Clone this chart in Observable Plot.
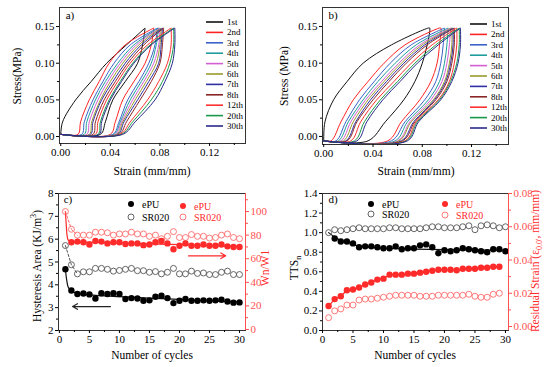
<!DOCTYPE html>
<html><head><meta charset="utf-8">
<script src="https://cdn.jsdelivr.net/npm/d3@7"></script>
<script src="https://cdn.jsdelivr.net/npm/@observablehq/plot@0.6"></script>
<style>
body{margin:0;background:#fff}
#fig{position:relative;width:554px;height:367px;overflow:hidden;background:#fff;font-family:"Liberation Serif","Times New Roman",serif;color:#000}
</style></head>
<body><div id="fig"></div>
<script>
// ---------- data ----------
const cycleNames = ["1st","2nd","3rd","4th","5th","6th","7th","8th","12th","20th","30th"];
const cycleColors = ["#111111","#ff2424","#3b62c8","#1f9c9c","#d45fd4","#9a9a2c","#2f2fa6","#8a2626","#ff3030","#19994a","#2a2a8c"];

// panel a: strain (mm/mm) at given stress levels (MPa), loading then unloading
const stressLevelsA = [0.003, 0.02, 0.05, 0.075, 0.10, 0.125, 0.148];
const loadStrainA = [
  [0.000, 0.0015, 0.012, 0.0245, 0.037, 0.053, 0.068],
  [0.014, 0.016, 0.023, 0.031, 0.039, 0.052, 0.075],
  [0.017, 0.019, 0.026, 0.034, 0.043, 0.056, 0.078],
  [0.019, 0.021, 0.028, 0.036, 0.046, 0.059, 0.079],
  [0.021, 0.023, 0.030, 0.038, 0.048, 0.061, 0.080],
  [0.023, 0.025, 0.032, 0.040, 0.050, 0.063, 0.081],
  [0.024, 0.026, 0.033, 0.042, 0.052, 0.065, 0.082],
  [0.026, 0.028, 0.035, 0.044, 0.054, 0.067, 0.083],
  [0.028, 0.030, 0.037, 0.046, 0.056, 0.070, 0.089],
  [0.030, 0.032, 0.039, 0.048, 0.058, 0.072, 0.091],
  [0.031, 0.033, 0.040, 0.049, 0.059, 0.073, 0.092]
];
const unloadStrainA = [
  [0.032, 0.036, 0.042, 0.052, 0.062, 0.066, 0.068],
  [0.040, 0.044, 0.050, 0.059, 0.068, 0.073, 0.075],
  [0.042, 0.047, 0.054, 0.063, 0.071, 0.076, 0.078],
  [0.043, 0.048, 0.056, 0.065, 0.073, 0.077, 0.079],
  [0.044, 0.049, 0.058, 0.067, 0.075, 0.079, 0.080],
  [0.045, 0.050, 0.060, 0.069, 0.077, 0.080, 0.081],
  [0.046, 0.051, 0.062, 0.071, 0.079, 0.081, 0.082],
  [0.047, 0.053, 0.064, 0.073, 0.080, 0.082, 0.083],
  [0.048, 0.056, 0.070, 0.079, 0.086, 0.089, 0.089],
  [0.049, 0.058, 0.073, 0.082, 0.088, 0.091, 0.091],
  [0.050, 0.060, 0.076, 0.084, 0.090, 0.092, 0.092]
];

// panel b
const stressLevelsB = [-0.006, 0.02, 0.05, 0.075, 0.10, 0.125, 0.148];
const loadStrainB = [
  [0.000, 0.001, 0.008, 0.019, 0.032, 0.055, 0.085],
  [0.006, 0.014, 0.024, 0.036, 0.049, 0.066, 0.094],
  [0.010, 0.018, 0.029, 0.041, 0.054, 0.071, 0.098],
  [0.012, 0.020, 0.032, 0.044, 0.058, 0.075, 0.101],
  [0.014, 0.022, 0.034, 0.047, 0.061, 0.078, 0.103],
  [0.016, 0.024, 0.036, 0.049, 0.063, 0.080, 0.104],
  [0.018, 0.026, 0.038, 0.051, 0.065, 0.082, 0.105],
  [0.019, 0.027, 0.040, 0.053, 0.067, 0.084, 0.106],
  [0.022, 0.030, 0.043, 0.057, 0.071, 0.088, 0.108],
  [0.025, 0.033, 0.046, 0.060, 0.074, 0.091, 0.110],
  [0.027, 0.035, 0.048, 0.062, 0.076, 0.093, 0.111]
];
const unloadStrainB = [
  [0.036, 0.050, 0.065, 0.074, 0.080, 0.084, 0.086],
  [0.052, 0.063, 0.078, 0.087, 0.092, 0.094, 0.095],
  [0.055, 0.066, 0.082, 0.091, 0.095, 0.097, 0.098],
  [0.058, 0.068, 0.085, 0.094, 0.098, 0.100, 0.101],
  [0.060, 0.070, 0.087, 0.096, 0.100, 0.102, 0.103],
  [0.061, 0.071, 0.089, 0.098, 0.102, 0.104, 0.104],
  [0.063, 0.073, 0.090, 0.099, 0.103, 0.105, 0.105],
  [0.064, 0.074, 0.091, 0.100, 0.104, 0.106, 0.106],
  [0.066, 0.075, 0.093, 0.102, 0.106, 0.108, 0.108],
  [0.067, 0.076, 0.094, 0.103, 0.108, 0.110, 0.110],
  [0.068, 0.077, 0.095, 0.104, 0.109, 0.111, 0.111]
];

const strainTicks = [0, 0.04, 0.08, 0.12];
const strainMinor = [0.02, 0.06, 0.10, 0.14];
const stressTicks = [0, 0.05, 0.10, 0.15];
const stressMinor = [0.025, 0.075, 0.125];

// panel c
const cycles = [1,2,3,4,5,6,7,8,9,10,11,12,13,14,15,16,17,18,19,20,21,22,23,24,25,26,27,28,29,30];
const hystEPU = [4.68,3.75,3.60,3.62,3.58,3.40,3.63,3.60,3.63,3.60,3.38,3.42,3.40,3.30,3.32,3.48,3.52,3.42,3.20,3.30,3.38,3.30,3.30,3.32,3.30,3.32,3.35,3.27,3.22,3.23];
const hystSR020 = [5.72,4.88,4.48,4.57,4.57,4.72,4.72,4.68,4.60,4.63,4.68,4.72,4.62,4.62,4.55,4.58,4.48,4.55,4.72,4.48,4.48,4.60,4.50,4.52,4.45,4.45,4.55,4.60,4.45,4.45];
const ratioEPU = [null,74,74.5,74,72,75,74.5,73,74,74,72.5,73,73,71.5,72,74,75,73,68,71,73,71,71,72,71,71,72,70.5,70,70];
const ratioSR020 = [100,85,80,80,80,82.5,82.5,82,80,81,81,82.5,81,81,79,80,77,79,83,78,78,80.5,79,79,77.5,78,80,81,78,77];
const fitHystX = [1,1.25,1.5,2,3,5,10,15,20,25,30];
const fitHystY = [4.68,4.15,3.88,3.72,3.63,3.56,3.48,3.42,3.36,3.30,3.25];
const fitRatioX = [1,1.15,1.3,1.5,2,5,10,15,20,25,30];
const fitRatioY = [100,88,79,75.5,74.5,74,73.3,72.6,71.9,71.2,70.5];
const arrowLeft = [{x1: 8.5, x2: 2.2, y: 3.05}];
const arrowRight = [{x1: 21.5, x2: 27.7, y: 62.5}];

// panel d
const ttsEPU = [null,0.94,0.91,0.91,0.89,0.85,0.86,0.86,0.85,0.84,0.84,0.86,0.83,0.84,0.84,0.87,0.88,0.85,0.79,0.82,0.81,0.82,0.84,0.83,0.82,0.81,0.80,0.83,0.83,0.81];
const ttsSR020 = [1.00,1.03,1.02,1.03,1.04,1.05,1.04,1.04,1.04,1.04,1.05,1.05,1.04,1.04,1.04,1.04,1.05,1.06,1.06,1.05,1.05,1.05,1.06,1.07,1.03,1.07,1.08,1.07,1.05,1.06];
const residEPU = [0.0123,0.0165,0.0182,0.0218,0.0223,0.0235,0.0253,0.0265,0.0282,0.0288,0.0312,0.0312,0.0312,0.0318,0.0318,0.0324,0.0329,0.0335,0.0341,0.0341,0.0341,0.0338,0.0347,0.0347,0.0347,0.0353,0.0353,0.0359,0.0359];
const residSR020 = [0.0053,0.0094,0.0106,0.0129,0.0129,0.0159,0.0165,0.0165,0.0170,0.0176,0.0182,0.0188,0.0188,0.0188,0.0188,0.0182,0.0182,0.0182,0.0188,0.0188,0.0188,0.0188,0.0188,0.0194,0.0182,0.0176,0.0176,0.0194,0.0200];
const fitTtsX = [1,2,3,4,5,7,10,15,20,25,30];
const fitTtsY = [1.0,0.955,0.92,0.895,0.875,0.855,0.842,0.832,0.826,0.822,0.82];

// ---------- helpers ----------
const FONT = '"Liberation Serif","Times New Roman",serif';
const RED = "#ff2a2a", RED_LIGHT = "#ff6a6a", RED_AXIS = "#ff5050", GRAY = "#555";
const NS = "http://www.w3.org/2000/svg";
const fig = document.getElementById("fig");
function place(el, left, top) {
  el.style.position = "absolute"; el.style.left = left + "px"; el.style.top = top + "px";
  fig.appendChild(el);
}
function loopRows(levels, loads, unloads) {
  const rows = [];
  loads.forEach((ld, k) => {
    const ul = unloads[k];
    const pts = [];
    if (ld[0] > 0) pts.push([0, levels[0]]);
    for (let i = 0; i < ld.length; i++) pts.push([ld[i], levels[i]]);
    for (let i = ul.length - 1; i >= 0; i--) pts.push([ul[i], levels[i]]);
    pts.push([0, levels[0]]);
    pts.forEach(([x, y]) => rows.push({cycle: cycleNames[k], x, y}));
  });
  return rows;
}
const blank = () => "";
const style = {background: "none", fontFamily: FONT, fontSize: "11px", color: "#000", overflow: "visible"};

// ---------- panels a & b ----------
function loopPanel(rows, m, ydom, xdom) {
  return Plot.plot({
    width: 277, height: 180, ...m,
    x: {domain: xdom}, y: {domain: ydom},
    color: {domain: cycleNames, range: cycleColors},
    style,
    marks: [
      Plot.line(rows, {x: "x", y: "y", z: "cycle", stroke: "cycle", strokeWidth: 1, curve: "catmull-rom"}),
      Plot.frame({stroke: "#333"}),
      Plot.axisX({ticks: strainTicks, tickFormat: d3.format(".2f"), tickSize: 3, tickPadding: 2, label: null}),
      Plot.axisX({ticks: strainMinor, tickFormat: blank, tickSize: 2, label: null}),
      Plot.axisY({ticks: stressTicks, tickFormat: d3.format(".2f"), tickSize: 3, tickPadding: 2, label: null}),
      Plot.axisY({ticks: stressMinor, tickFormat: blank, tickSize: 2, label: null})
    ]
  });
}
place(loopPanel(loopRows(stressLevelsA, loadStrainA, unloadStrainA),
  {marginLeft: 59, marginRight: 32, marginTop: 7, marginBottom: 37}, [-0.0095, 0.176], [-0.001, 0.149]), 0, 0);
place(loopPanel(loopRows(stressLevelsB, loadStrainB, unloadStrainB),
  {marginLeft: 45, marginRight: 46, marginTop: 7, marginBottom: 36}, [-0.011, 0.176], [-0.001, 0.150]), 277, 0);

// ---------- panel c ----------
const cycMinor = [2.5,7.5,12.5,17.5,22.5,27.5];
const mC = {width: 277, height: 192, marginLeft: 58, marginRight: 32, marginTop: 18, marginBottom: 37};
const xC = {domain: [-0.15, 31]};
const cLeft = Plot.plot({
  ...mC, x: xC, y: {domain: [2, 8]}, style,
  marks: [
    Plot.frame({stroke: "#333"}),
    Plot.axisX({ticks: [0,5,10,15,20,25,30], tickSize: 3, tickPadding: 2, label: null}),
    Plot.axisX({ticks: cycMinor, tickFormat: blank, tickSize: 2, label: null}),
    Plot.axisY({ticks: [2,3,4,5,6,7,8], tickFormat: d3.format("d"), tickSize: 3, tickPadding: 2, label: null}),
    Plot.axisY({ticks: [2.5,3.5,4.5,5.5,6.5,7.5], tickFormat: blank, tickSize: 2, label: null}),
    Plot.line(fitHystX, {x: d => d, y: (d, i) => fitHystY[i], stroke: "#111", strokeWidth: 1.2, curve: "catmull-rom"}),
    Plot.line(cycles.slice(0, 3), {x: d => d, y: (d, i) => hystSR020[i], stroke: GRAY, strokeDasharray: "2.5,2", strokeWidth: 1}),
    Plot.dot(cycles, {x: d => d, y: (d, i) => hystSR020[i], r: 3, stroke: GRAY, strokeWidth: 0.9, fill: "none"}),
    Plot.dot(cycles, {x: d => d, y: (d, i) => hystEPU[i], r: 3.2, fill: "#000", stroke: "none"}),
    Plot.arrow(arrowLeft, {x1: "x1", x2: "x2", y1: "y", y2: "y", stroke: "#222", strokeWidth: 1.2, headLength: 7})
  ]
});
const cRight = Plot.plot({
  ...mC, x: {...xC, axis: null}, y: {domain: [-0.85, 115.3]}, style,
  marks: [
    Plot.ruleX([31], {stroke: RED_AXIS}),
    Plot.axisY({anchor: "right", ticks: [0,20,40,60,80,100], tickFormat: d3.format("d"), tickSize: 3, tickPadding: 2, label: null, color: RED_AXIS}),
    Plot.axisY({anchor: "right", ticks: [10,30,50,70,90,110], tickFormat: blank, tickSize: 2, label: null, color: RED_AXIS}),
    Plot.line(fitRatioX, {x: d => d, y: (d, i) => fitRatioY[i], stroke: RED, strokeWidth: 1.2, curve: "catmull-rom"}),
    Plot.line(cycles.slice(0, 3), {x: d => d, y: (d, i) => ratioSR020[i], stroke: RED_LIGHT, strokeDasharray: "2.5,2", strokeWidth: 1}),
    Plot.dot(cycles, {x: d => d, y: (d, i) => ratioSR020[i], r: 3, stroke: RED_LIGHT, strokeWidth: 0.9, fill: "none"}),
    Plot.dot(cycles, {x: d => d, y: (d, i) => ratioEPU[i], r: 3.2, fill: RED, stroke: "none"}),
    Plot.arrow(arrowRight, {x1: "x1", x2: "x2", y1: "y", y2: "y", stroke: RED, strokeWidth: 1.2, headLength: 7})
  ]
});
place(cLeft, 0, 175); place(cRight, 0, 175);

// ---------- panel d ----------
const mD = {width: 277, height: 192, marginLeft: 45, marginRight: 46, marginTop: 18, marginBottom: 37};
const xD = {domain: [0, 30.5]};
const dLeft = Plot.plot({
  ...mD, x: xD, y: {domain: [0, 1.4]}, style,
  marks: [
    Plot.frame({stroke: "#333"}),
    Plot.axisX({ticks: [0,5,10,15,20,25,30], tickSize: 3, tickPadding: 2, label: null}),
    Plot.axisX({ticks: cycMinor, tickFormat: blank, tickSize: 2, label: null}),
    Plot.axisY({ticks: [0,0.2,0.4,0.6,0.8,1.0,1.2,1.4], tickFormat: d3.format(".1f"), tickSize: 3, tickPadding: 2, label: null}),
    Plot.axisY({ticks: [0.1,0.3,0.5,0.7,0.9,1.1,1.3], tickFormat: blank, tickSize: 2, label: null}),
    Plot.line(fitTtsX, {x: d => d, y: (d, i) => fitTtsY[i], stroke: "#111", strokeWidth: 1.2, curve: "catmull-rom"}),
    Plot.dot(cycles, {x: d => d, y: (d, i) => ttsSR020[i], r: 3, stroke: GRAY, strokeWidth: 0.9, fill: "none"}),
    Plot.dot(cycles, {x: d => d, y: (d, i) => ttsEPU[i], r: 3.2, fill: "#000", stroke: "none"})
  ]
});
const cyc29 = cycles.slice(0, 29);
const dRight = Plot.plot({
  ...mD, x: {...xD, axis: null}, y: {domain: [-0.0024, 0.08]}, style,
  marks: [
    Plot.ruleX([30.5], {stroke: RED_AXIS}),
    Plot.axisY({anchor: "right", ticks: [0,0.02,0.04,0.06,0.08], tickFormat: d3.format(".2f"), tickSize: 3, tickPadding: 2, label: null, color: RED_AXIS}),
    Plot.axisY({anchor: "right", ticks: [0.01,0.03,0.05,0.07], tickFormat: blank, tickSize: 2, label: null, color: RED_AXIS}),
    Plot.line(cyc29, {x: d => d, y: (d, i) => residEPU[i], stroke: RED, strokeWidth: 1.2}),
    Plot.dot(cyc29, {x: d => d, y: (d, i) => residSR020[i], r: 3, stroke: RED_LIGHT, strokeWidth: 0.9, fill: "none"}),
    Plot.dot(cyc29, {x: d => d, y: (d, i) => residEPU[i], r: 3.2, fill: RED, stroke: "none"})
  ]
});
place(dLeft, 277, 175); place(dRight, 277, 175);

// ---------- overlay: legends and titles (SVG text) ----------
const ov = document.createElementNS(NS, "svg");
ov.setAttribute("width", 554); ov.setAttribute("height", 367);
ov.setAttribute("font-family", FONT);
place(ov, 0, 0);
function el(name, attrs, parent = ov) {
  const e = document.createElementNS(NS, name);
  for (const k in attrs) e.setAttribute(k, attrs[k]);
  parent.appendChild(e);
  return e;
}
// parts: array of [text, kind] where kind is "", "sub" or "sup"
function label(parts, x, y, opts = {}) {
  const size = opts.size || 11.5;
  const t = el("text", {
    "text-anchor": "middle", "font-size": size, fill: opts.color || "#000",
    transform: `translate(${x},${y})` + (opts.rot ? " rotate(-90)" : ""),
    y: size * 0.35
  });
  let shift = 0;
  for (const [txt, kind] of parts) {
    const target = kind === "sub" ? size * 0.3 : kind === "sup" ? -size * 0.4 : 0;
    const sp = el("tspan", {dy: target - shift}, t);
    if (kind) sp.setAttribute("font-size", size * 0.7);
    sp.textContent = txt;
    shift = target;
  }
}
function loopLegend(x0, y0) {
  cycleNames.forEach((n, i) => {
    const y = y0 + i * 10.4;
    el("line", {x1: x0, x2: x0 + 17, y1: y, y2: y, stroke: cycleColors[i], "stroke-width": 1.6});
    const t = el("text", {x: x0 + 21, y: y + 3, "font-size": 9});
    t.textContent = n;
  });
}
loopLegend(206, 22);
loopLegend(470, 24);

function dotLegend(items) {
  items.forEach(it => {
    el("circle", it.filled
      ? {cx: it.x, cy: it.y, r: 3, fill: it.color}
      : {cx: it.x, cy: it.y, r: 3, fill: "none", stroke: it.color, "stroke-width": 0.9});
    const t = el("text", {x: it.x + 11, y: it.y + 3.5, "font-size": 10, fill: it.tcolor || "#000"});
    t.textContent = it.text;
  });
}
dotLegend([
  {x: 131, y: 204, filled: true, color: "#000", text: "ePU"},
  {x: 131, y: 217, filled: false, color: GRAY, text: "SR020"},
  {x: 183, y: 206, filled: true, color: RED, text: "ePU", tcolor: RED},
  {x: 183, y: 217, filled: false, color: RED_LIGHT, text: "SR020", tcolor: RED},
  {x: 371, y: 204, filled: true, color: "#000", text: "ePU"},
  {x: 371, y: 214, filled: false, color: GRAY, text: "SR020"},
  {x: 445, y: 204, filled: true, color: RED, text: "ePU", tcolor: RED},
  {x: 445, y: 215, filled: false, color: RED_LIGHT, text: "SR020", tcolor: RED}
]);

label([["a)", ""]], 70, 15, {size: 11});
label([["b)", ""]], 333, 15, {size: 11});
label([["c)", ""]], 68, 199, {size: 11});
label([["d)", ""]], 333, 199, {size: 11});
label([["Stress(MPa)", ""]], 17, 76, {rot: true});
label([["Stress (MPa)", ""]], 284, 76, {rot: true});
label([["Strain (mm/mm)", ""]], 152, 171);
label([["Strain (mm/mm)", ""]], 416, 171);
label([["Hysteresis Area (KJ/m", ""], ["3", "sup"], [")", ""]], 37, 266, {rot: true});
label([["Wn/W1", ""]], 265, 268, {rot: true, color: RED});
label([["Number of cycles", ""]], 152, 355);
label([["TTS", ""], ["n", "sub"]], 294, 268, {rot: true});
label([["Residual Strain (ε", ""], ["0.0'", "sub"], [", mm/mm)", ""]], 535, 261, {rot: true, color: RED});
label([["Number of cycles", ""]], 415, 355);
</script></body></html>
